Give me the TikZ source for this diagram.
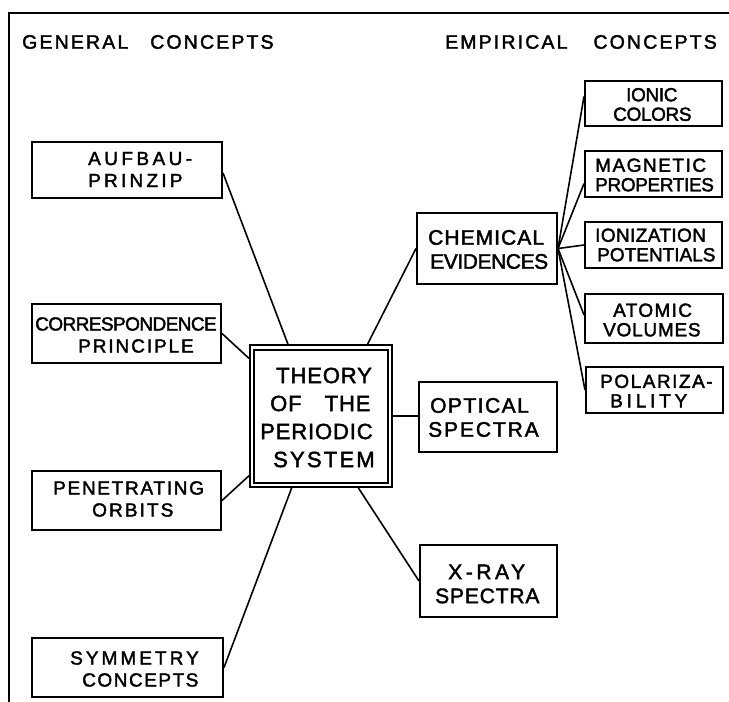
\documentclass[tikz,border=0pt]{standalone}
\usepackage{fontspec}
\usetikzlibrary{calc}
\newfontfamily\lett[FakeBold=2]{Liberation Sans}
\newcommand\trk[1]{\addfontfeature{LetterSpace=#1}}
\begin{document}
\begin{tikzpicture}[x=1pt,y=-1pt,
  box/.style={draw, line width=2pt, inner sep=0pt},
  conn/.style={line width=1.6pt},
  frame/.style={line width=2pt},
  txt/.style={inner sep=0pt, anchor=west, align=left},
  htxt/.style={txt, font=\lett\fontsize{19.5}{22}\selectfont},
  gtxt/.style={txt, font=\lett\fontsize{19}{22}\selectfont},
  ctxt/.style={txt, font=\lett\fontsize{22}{28}\selectfont},
  mtxt/.style={txt, font=\lett\fontsize{21}{24}\selectfont},
  rtxt/.style={txt, font=\lett\fontsize{19}{19.5}\selectfont}]
\useasboundingbox (0,0) rectangle (729,702);
\fill[white] (0,0) rectangle (729,702);
% frame
\coordinate (fb) at (9,702);
\coordinate (ft) at (9,12.5);
\coordinate (fr) at (729,12.5);
\draw[frame] (fb) -- (ft) -- (fr);
% headers
\node[htxt] (genT) at (22,42) {{\trk{11}GENERAL}\hspace{22pt}{\trk{11}CONCEPTS}};
\node[htxt] (empT) at (445,42) {{\trk{11}EMPIRICAL}\hspace{26pt}{\trk{11}CONCEPTS}};
% boxes
\node[box, minimum width=190pt, minimum height=56pt] (aufbau) at (127,170) {};
\node[box, minimum width=189pt, minimum height=59pt] (corr) at (126.5,333.5) {};
\node[box, minimum width=189pt, minimum height=59pt] (pen) at (126.5,500.5) {};
\node[box, minimum width=191pt, minimum height=59pt] (sym) at (127.5,667.5) {};
\node[box, minimum width=142pt, minimum height=142pt] (theory) at (321,416) {};
\draw[line width=2pt] ([shift={(5pt,-5.5pt)}]theory.north west) rectangle ([shift={(-5pt,5pt)}]theory.south east);
\node[box, minimum width=140pt, minimum height=71pt] (chem) at (487,248.5) {};
\node[box, minimum width=138pt, minimum height=70pt] (optical) at (488,417) {};
\node[box, minimum width=137pt, minimum height=72pt] (xray) at (488.5,581) {};
\node[box, minimum width=137pt, minimum height=45pt] (ionic) at (653.5,103.5) {};
\node[box, minimum width=137pt, minimum height=46pt] (magnetic) at (653.5,174) {};
\node[box, minimum width=137pt, minimum height=46pt] (ioniz) at (653.5,245) {};
\node[box, minimum width=138pt, minimum height=49pt] (atomic) at (654,318.5) {};
\node[box, minimum width=137pt, minimum height=46pt] (polar) at (654.5,390) {};
% texts
\node[gtxt] (aufbauT) at (88,169.5) {{\trk{18}AUFBAU-}\\{\trk{17}PRINZIP}};
\node[gtxt] (corrT) at (35,335) {{\trk{-3}CORRESPONDENCE}\\\hspace*{43pt}{\trk{10}PRINCIPLE}};
\node[gtxt] (penT) at (53,499) {{\trk{9}PENETRATING}\\\hspace*{39pt}{\trk{11}ORBITS}};
\node[gtxt] (symT) at (70,669) {{\trk{16}SYMMETRY}\\\hspace*{12pt}{\trk{8}CONCEPTS}};
\node[ctxt] (theoryT) at (260,417.5) {\hspace*{16pt}{\trk{4}THEORY}\\\hspace*{10pt}{\trk{4}OF}\hspace{23pt}{\trk{4}THE}\\{\trk{4}PERIODIC}\\\hspace*{13pt}{\trk{10}SYSTEM}};
\node[mtxt] (chemT) at (428,249.5) {{\trk{5}CHEMICAL}\\\hspace*{2pt}{\trk{-2}EVIDENCES}};
\node[mtxt] (optT) at (428,417.5) {\hspace*{2pt}{\trk{7}OPTICAL}\\{\trk{9}SPECTRA}};
\node[mtxt] (xrayT) at (435,584) {\hspace*{13pt}{\trk{17}X-RAY}\\{\trk{4}SPECTRA}};
\node[rtxt] (ionicT) at (613,104.5) {\hspace*{13pt}{\trk{-2}IONIC}\\{\trk{-2}COLORS}};
\node[rtxt] (magT) at (595,175) {{\trk{8}MAGNETIC}\\{\trk{-2}PROPERTIES}};
\node[rtxt] (ionizT) at (595,245) {{\trk{2}IONIZATION}\\\hspace*{2pt}{\trk{0}POTENTIALS}};
\node[rtxt] (atomT) at (603,320) {\hspace*{10pt}{\trk{7}ATOMIC}\\{\trk{4}VOLUMES}};
\node[rtxt] (polT) at (600,391) {{\trk{8}POLARIZA-}\\\hspace*{10pt}{\trk{20}BILITY}};
% connectors
\draw[conn] ([yshift=-3pt]aufbau.east) -- ($(theory.north west)!0.27!(theory.north east)$);
\draw[conn] (corr.east) -- ($(theory.north west)!0.1!(theory.south west)$);
\draw[conn] (pen.east) -- ($(theory.north west)!0.915!(theory.south west)$);
\draw[conn] (sym.east) -- ($(theory.south west)!0.296!(theory.south east)$);
\draw[conn] ($(theory.north west)!0.824!(theory.north east)$) -- (chem.west);
\draw[conn] (theory.east) -- (theory.east -| optical.west);
\draw[conn] ($(theory.south west)!0.76!(theory.south east)$) -- (xray.west);
\draw[conn] (chem.east) -- ($(ionic.north west)!0.35!(ionic.south west)$);
\draw[conn] (chem.east) -- ($(magnetic.north west)!0.7!(magnetic.south west)$);
\draw[conn] (chem.east) -- (ioniz.west);
\draw[conn] (chem.east) -- ($(atomic.north west)!0.43!(atomic.south west)$);
\draw[conn] (chem.east) -- (polar.west);
\end{tikzpicture}
\end{document}
